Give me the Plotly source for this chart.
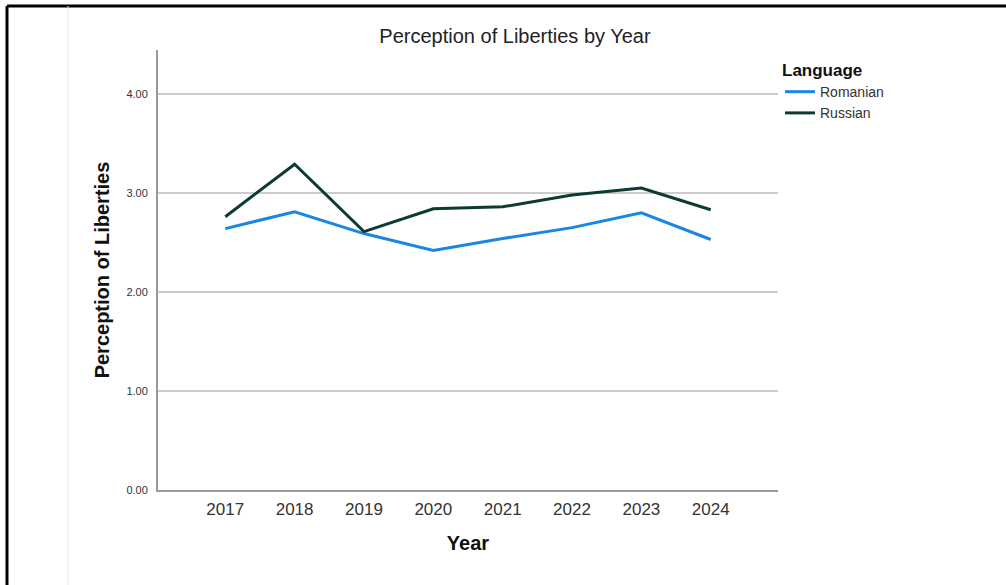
import plotly.graph_objects as go

years = [2017, 2018, 2019, 2020, 2021, 2022, 2023, 2024]
romanian = [2.64, 2.81, 2.59, 2.42, 2.54, 2.65, 2.80, 2.53]
russian = [2.76, 3.29, 2.61, 2.84, 2.86, 2.98, 3.05, 2.83]
y_ticks = [0, 1, 2, 3, 4]
y_tick_text = ["0.00", "1.00", "2.00", "3.00", "4.00"]

W, H = 1006, 585
L, R, T, B = 158, 778, 50, 490

def px(x):
    return (x - L) / (R - L)

def py(y):
    return (B - y) / (B - T)

fig = go.Figure()
fig.add_trace(go.Scatter(x=years, y=romanian, mode="lines", name="Romanian",
                         line=dict(color="#1a86e3", width=3)))
fig.add_trace(go.Scatter(x=years, y=russian, mode="lines", name="Russian",
                         line=dict(color="#0c3b35", width=3)))

font_family = "Liberation Sans, Arial, sans-serif"

fig.update_layout(
    width=W, height=H,
    margin=dict(l=L, r=W - R, t=T, b=H - B),
    paper_bgcolor="white", plot_bgcolor="white",
    font=dict(family=font_family, color="#333333"),
    title=dict(text="Perception of Liberties by Year", xref="container", x=515 / W,
               xanchor="center", y=1 - 36 / H, yanchor="middle",
               font=dict(size=20, color="#222222")),
    showlegend=True,
    legend=dict(x=px(780), y=py(54), xanchor="left", yanchor="top",
                title=dict(text="<b>Language</b>", font=dict(size=17, color="#111111")),
                font=dict(size=14, color="#333333"),
                bgcolor="rgba(0,0,0,0)", tracegroupgap=0, itemwidth=30),
    xaxis=dict(range=[2016.03, 2024.97], tickvals=years, ticktext=[str(y) for y in years],
               showgrid=False, zeroline=False, showline=True, linecolor="#999999",
               linewidth=2, ticks="", tickfont=dict(size=17, color="#333333"),
               ticklabelstandoff=3,
               title=dict(text="<b>Year</b>", font=dict(size=20, color="#111111"), standoff=18)),
    yaxis=dict(range=[0, 4.444], tickvals=y_ticks, ticktext=y_tick_text,
               showgrid=True, gridcolor="#cccccc", gridwidth=1.5, zeroline=False,
               showline=True, linecolor="#999999", linewidth=2, ticks="",
               tickfont=dict(size=11, color="#333333"), ticklabelstandoff=6,
               title=dict(text="<b>Perception of Liberties</b>", font=dict(size=20, color="#111111"),
                          standoff=11)),
    shapes=[
        dict(type="line", xref="paper", yref="paper", x0=px(7), x1=px(1006), y0=py(6), y1=py(6),
             line=dict(color="black", width=3)),
        dict(type="line", xref="paper", yref="paper", x0=px(7), x1=px(7), y0=py(6), y1=py(585),
             line=dict(color="black", width=3)),
        dict(type="line", xref="paper", yref="paper", x0=px(68), x1=px(68), y0=py(6), y1=py(585),
             line=dict(color="#e6e6e6", width=1)),
    ],
)

fig.write_html("out.html", config={"displayModeBar": False},
               post_script="document.body.style.margin='0';document.body.style.overflow='hidden';")
